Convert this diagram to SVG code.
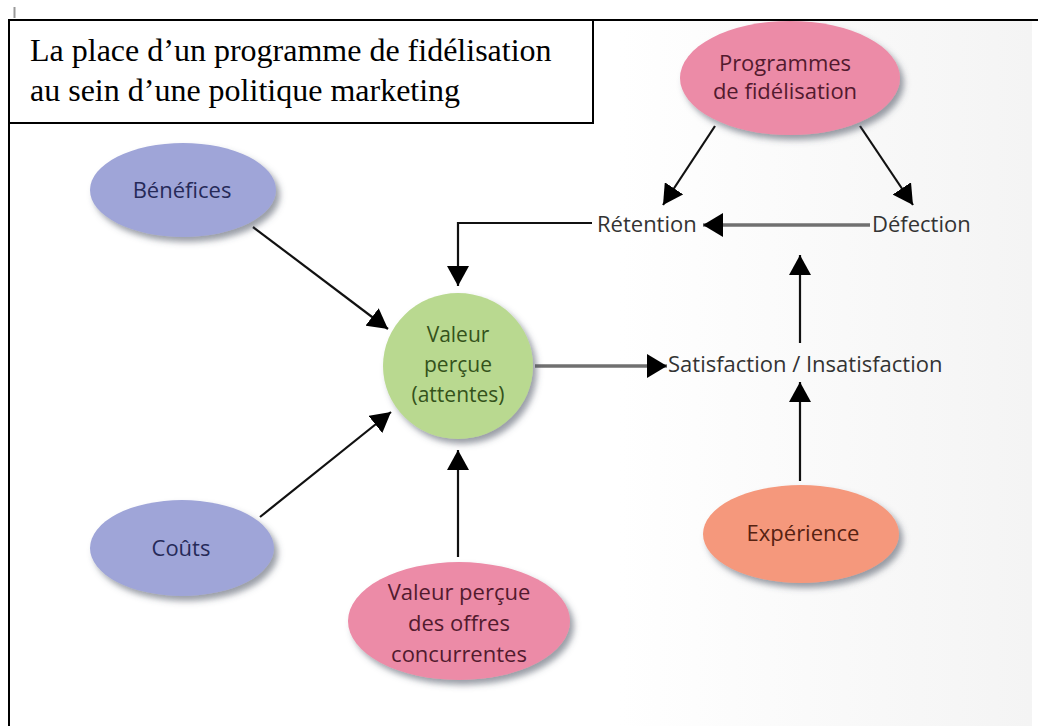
<svg xmlns="http://www.w3.org/2000/svg" width="1038" height="726" viewBox="0 0 1038 726">
  <style>
    .frame { fill: none; stroke: #000; stroke-width: 2; }
    .title { font-family: "Liberation Serif", "Times New Roman", serif; font-size: 32px; fill: #000; }
    .lbl { font-family: "Open Sans", "Liberation Sans", sans-serif; font-size: 22px; fill: #333; }
    .node text { font-family: "Open Sans", "Liberation Sans", sans-serif; font-size: 22px; text-anchor: middle; }
    .blue ellipse { fill: #9fa5d8; }
    .blue text { fill: #262a58; }
    .pink ellipse { fill: #ec8ba7; }
    .pink text { fill: #521a2e; }
    .green ellipse { fill: #b9d990; }
    .green text { fill: #34521b; font-size: 21px; }
    .orange ellipse { fill: #f5987b; }
    .orange text { fill: #552212; }
    .blk { stroke: #111; stroke-width: 2.2; fill: none; }
    .gry { stroke: #707070; stroke-width: 3.5; fill: none; }
  </style>
  <defs>
    <marker id="ah" viewBox="0 0 20 22" refX="20" refY="11" markerWidth="20" markerHeight="22" markerUnits="userSpaceOnUse" orient="auto">
      <path d="M0,0 L20,11 L0,22 Z" fill="#000"/>
    </marker>
    <marker id="ahg" viewBox="0 0 20 24" refX="20" refY="12" markerWidth="20" markerHeight="24" markerUnits="userSpaceOnUse" orient="auto">
      <path d="M0,0 L20,12 L0,24 Z" fill="#000"/>
    </marker>
    <filter id="sh" x="-20%" y="-20%" width="150%" height="160%">
      <feDropShadow dx="4" dy="5" stdDeviation="3" flood-color="#4a5060" flood-opacity="0.55"/>
    </filter>
    <linearGradient id="bg" x1="0" y1="0" x2="1" y2="0">
      <stop offset="0" stop-color="#ffffff"/>
      <stop offset="1" stop-color="#f4f4f4"/>
    </linearGradient>
  </defs>

  <rect x="0" y="0" width="1038" height="726" fill="#fff"/>
  <rect x="620" y="21" width="412" height="705" fill="url(#bg)"/>

  <!-- frame -->
  <line x1="14.5" y1="7" x2="14.5" y2="18" stroke="#999" stroke-width="2"/>
  <path class="frame" d="M9,726 L9,20 L1038,20"/>

  <g id="title">
    <rect x="9" y="20" width="584" height="103" fill="#fff" stroke="#000" stroke-width="2"/>
    <text class="title" x="30" y="61">La place d’un programme de fidélisation</text>
    <text class="title" x="30" y="101">au sein d’une politique marketing</text>
  </g>

  <g id="connectors">
    <line class="blk" x1="715" y1="126" x2="663" y2="205" marker-end="url(#ah)"/>
    <line class="blk" x1="860" y1="126" x2="913" y2="205" marker-end="url(#ah)"/>
    <line class="gry" x1="870" y1="225" x2="703" y2="225" marker-end="url(#ahg)"/>
    <path class="blk" d="M592,223 L458,223 L458,286" marker-end="url(#ah)"/>
    <line class="blk" x1="253" y1="227" x2="388" y2="329" marker-end="url(#ah)"/>
    <line class="blk" x1="260" y1="517" x2="391" y2="412" marker-end="url(#ah)"/>
    <line class="blk" x1="458" y1="557" x2="458" y2="450" marker-end="url(#ah)"/>
    <line class="gry" x1="535" y1="366" x2="667" y2="366" marker-end="url(#ahg)"/>
    <line class="blk" x1="800" y1="343" x2="800" y2="255" marker-end="url(#ah)"/>
    <line class="blk" x1="800" y1="481" x2="800" y2="382" marker-end="url(#ah)"/>
  </g>

  <g id="lbl-retention"><text class="lbl" x="597" y="232">Rétention</text></g>
  <g id="lbl-defection"><text class="lbl" x="872" y="232">Défection</text></g>
  <g id="lbl-satisfaction"><text class="lbl" x="668" y="372">Satisfaction / Insatisfaction</text></g>

  <g id="programmes" class="node pink">
    <ellipse cx="790" cy="78" rx="110" ry="57" filter="url(#sh)"/>
    <text x="785" y="71">Programmes</text>
    <text x="785" y="99">de fidélisation</text>
  </g>

  <g id="benefices" class="node blue">
    <ellipse cx="183" cy="190" rx="93" ry="47" filter="url(#sh)"/>
    <text x="182" y="198">Bénéfices</text>
  </g>

  <g id="couts" class="node blue">
    <ellipse cx="182" cy="548" rx="92" ry="48" filter="url(#sh)"/>
    <text x="181" y="556">Coûts</text>
  </g>

  <g id="valeur" class="node green">
    <ellipse cx="458" cy="366" rx="75" ry="73" filter="url(#sh)"/>
    <text x="458" y="342">Valeur</text>
    <text x="458" y="372">perçue</text>
    <text x="458" y="402">(attentes)</text>
  </g>

  <g id="offres" class="node pink">
    <ellipse cx="459" cy="621" rx="111" ry="59" filter="url(#sh)"/>
    <text x="459" y="600">Valeur perçue</text>
    <text x="459" y="631">des offres</text>
    <text x="459" y="662">concurrentes</text>
  </g>

  <g id="experience" class="node orange">
    <ellipse cx="801" cy="534" rx="98" ry="49" filter="url(#sh)"/>
    <text x="803" y="541">Expérience</text>
  </g>
</svg>
